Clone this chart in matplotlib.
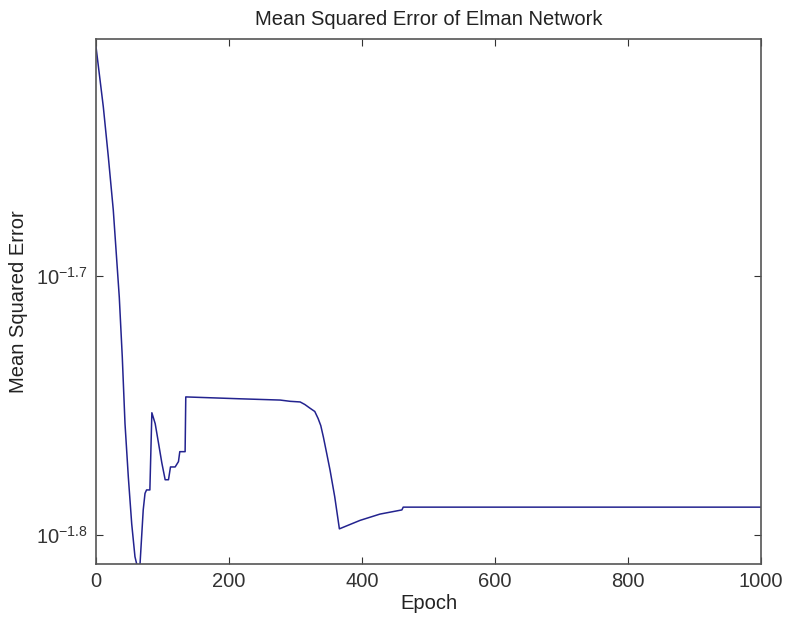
import matplotlib
matplotlib.use("Agg")
import matplotlib.pyplot as plt

# data
epoch = [0, 11, 18.5, 26, 35, 39.5, 43.6, 48.6, 53.7, 58.6, 61.2, 64, 66.2, 71, 73.7, 76, 81, 84,
         89, 94, 99, 104, 109, 112, 119, 124, 126, 134, 135,
         217, 277, 292, 307, 314, 322, 329, 334, 338, 342, 347, 352, 359, 366,
         397, 427, 460, 462, 1000]
mse = [0.02445, 0.02318, 0.02218, 0.02115, 0.01958, 0.01857, 0.01750, 0.01669, 0.01601, 0.01555,
       0.01545, 0.01535, 0.01545, 0.01621, 0.01645, 0.01650, 0.01650, 0.01767,
       0.01750, 0.01720, 0.01690, 0.01665, 0.01665, 0.01684, 0.01684, 0.01692, 0.01707, 0.01707,
       0.01792,
       0.01789, 0.01787, 0.01785, 0.01784, 0.01780, 0.01774, 0.01769, 0.01758, 0.01747, 0.01729,
       0.01704, 0.01679, 0.01640, 0.01594,
       0.01606, 0.01615, 0.01621, 0.01625, 0.01625]
yticks = [10**-1.7, 10**-1.8]
ylabels = [r"$10^{-1.7}$", r"$10^{-1.8}$"]
xticks = [0, 200, 400, 600, 800, 1000]

plt.rcParams["font.family"] = ["Liberation Sans", "DejaVu Sans"]
plt.rcParams["mathtext.fontset"] = "custom"
plt.rcParams["mathtext.rm"] = "Liberation Sans"
plt.rcParams["mathtext.it"] = "Liberation Sans:italic"
plt.rcParams["mathtext.default"] = "rm"

fig = plt.figure(figsize=(7.85, 6.26), dpi=100)
ax = fig.add_axes([0.1223, 0.099, 0.8471, 0.8387])

ax.plot(epoch, mse, color="#23238f", linewidth=1.1)
ax.set_yscale("log")
ax.set_xlim(0, 1000)
ax.set_ylim(0.01545, 0.02462)

ax.set_xticks(xticks)
ax.set_xticklabels([str(t) for t in xticks])
ax.set_yticks(yticks)
ax.set_yticklabels(ylabels)
ax.minorticks_off()
ax.tick_params(direction="in", top=True, right=True, length=5, labelsize=14.5,
               color="#333333", labelcolor="#333333", pad=6)
for s in ax.spines.values():
    s.set_color("#555555")
    s.set_linewidth(1.2)

ax.set_title("Mean Squared Error of Elman Network", fontsize=14.5, color="#222222", pad=10)
ax.set_xlabel("Epoch", fontsize=14.5, color="#222222", labelpad=2)
ax.set_ylabel("Mean Squared Error", fontsize=14.5, color="#222222", labelpad=6)

fig.savefig("out.png", dpi=100)
